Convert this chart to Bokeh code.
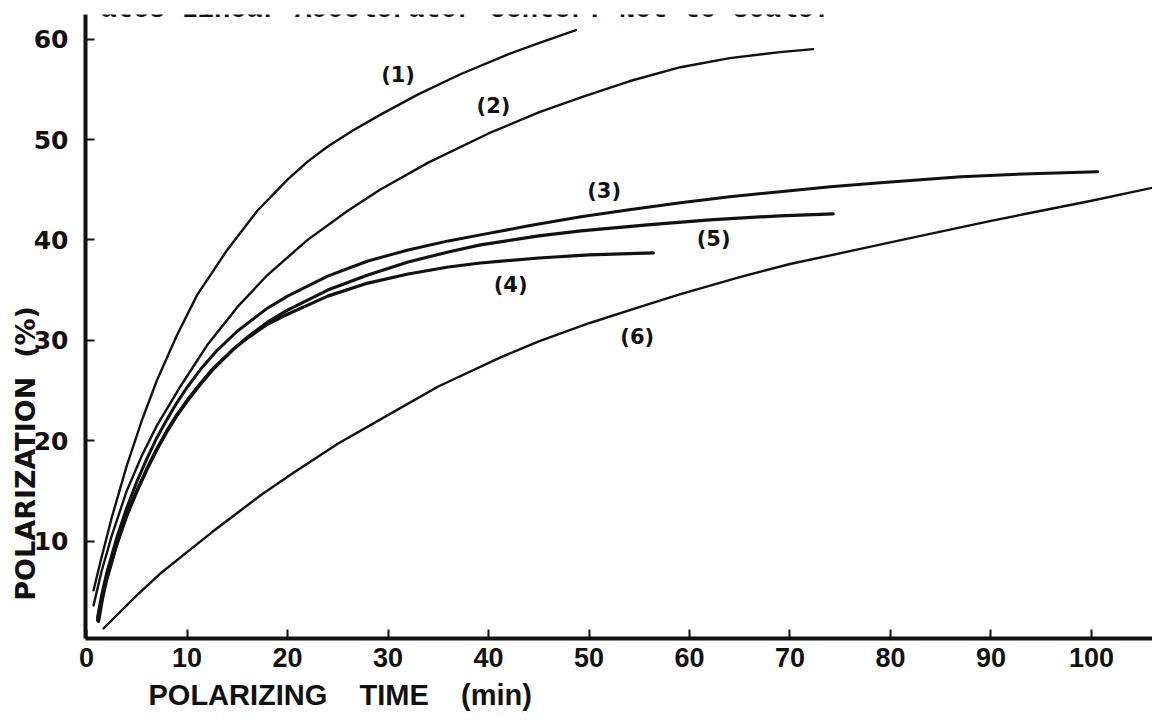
from bokeh.plotting import figure
from bokeh.models import Label, Range1d, FixedTicker, ColumnDataSource, Title
from bokeh.core.properties import value
from bokeh.embed import file_html
from bokeh.resources import INLINE

# ---- data (time in min, polarization in %) ----
c1_t = [0.7, 1.5, 2.5, 4, 5.5, 7, 9, 11, 14, 17, 20, 22, 24, 26.5, 29.3, 33, 37.2, 42, 45, 48.7]
c1_p = [5.1, 8.4, 12.3, 17.5, 22.0, 26.0, 30.5, 34.5, 39.0, 42.9, 46.0, 47.8, 49.3, 50.9, 52.5, 54.5, 56.5, 58.5, 59.6, 60.9]

c2_t = [0.7, 1.5, 2.5, 4, 5.5, 7, 9.4, 12, 15, 18, 22, 26, 29.2, 34, 40, 45, 49.2, 54, 59.1, 64, 69, 72.3]
c2_p = [3.6, 7.0, 10.5, 15.0, 18.5, 21.5, 25.5, 29.5, 33.3, 36.5, 40.0, 42.9, 45.0, 47.7, 50.6, 52.7, 54.2, 55.8, 57.2, 58.1, 58.7, 59.0]

c3_t = [1.1, 1.5, 2, 3, 4, 5, 6, 7, 8, 9, 10, 11.5, 13, 15, 18, 20, 24, 28, 32, 36, 39.2, 44, 49.2, 54, 59.1, 64, 69, 74, 79, 87, 94, 100.6]
c3_p = [2.4, 4.6, 6.8, 10.3, 13.3, 15.9, 18.2, 20.3, 22.1, 23.8, 25.3, 27.3, 29.0, 30.9, 33.2, 34.4, 36.4, 37.9, 39.0, 39.9, 40.5, 41.4, 42.3, 43.0, 43.7, 44.3, 44.8, 45.3, 45.7, 46.3, 46.6, 46.8]

c4_t = [1.1, 1.5, 2, 3, 4, 5, 6, 7, 8, 9, 10, 11, 12.5, 14.6, 16, 18, 20, 24, 28, 32, 36, 39.2, 45, 50, 56.4]
c4_p = [2.1, 4.2, 6.3, 9.7, 12.6, 15.0, 17.2, 19.2, 21.0, 22.6, 24.0, 25.3, 27.1, 29.1, 30.2, 31.6, 32.6, 34.4, 35.7, 36.6, 37.3, 37.7, 38.2, 38.5, 38.7]

c5_t = [1.2, 1.6, 2, 3, 4, 5, 6, 7, 8, 9, 10, 11, 12.5, 14.6, 16, 18, 20, 24, 28, 32, 36, 39.2, 45, 49.2, 55.8, 62, 69, 74.3]
c5_p = [2.0, 4.3, 6.1, 9.6, 12.5, 14.9, 17.1, 19.1, 20.9, 22.5, 23.9, 25.2, 27.0, 29.1, 30.3, 31.8, 33.0, 35.0, 36.5, 37.8, 38.8, 39.5, 40.4, 40.9, 41.5, 42.0, 42.4, 42.6]

c6_t = [1.7, 3, 5, 7.5, 10, 12.5, 15, 17.5, 20.6, 25, 30.6, 35, 41.2, 45, 50, 55, 59.1, 65, 70, 77, 83, 90, 95, 100, 106.1]
c6_p = [1.3, 2.6, 4.6, 6.9, 8.9, 10.9, 12.8, 14.7, 16.8, 19.7, 22.9, 25.4, 28.3, 29.9, 31.7, 33.3, 34.6, 36.3, 37.6, 39.1, 40.4, 41.9, 42.9, 43.9, 45.2]

curve_names = ["(1)", "(2)", "(3)", "(4)", "(5)", "(6)"]
name_t = [31.0, 40.5, 51.5, 42.2, 62.4, 54.8]
name_p = [56.4, 53.3, 44.9, 35.5, 40.1, 30.3]

x_ticks = [0, 10, 20, 30, 40, 50, 60, 70, 80, 90, 100]
y_ticks = [10, 20, 30, 40, 50, 60]

NB = "\u00a0"
x_title = "POLARIZING" + NB * 4 + "TIME" + NB * 4 + "(min)"
# trailing no-break spaces push the centred axis label toward the bottom, as in the scan
y_title = "POLARIZATION" + NB * 2 + "(%)" + NB * 27
caption = "ates Linear Accelerator Center.  Not to scale."

INK = "#111111"

p = figure(width=1152, height=720,
           x_range=Range1d(-0.1, 106.07), y_range=Range1d(0.3, 62.45),
           output_backend="svg", toolbar_location=None,
           min_border_left=85, min_border_right=0, min_border_top=14, min_border_bottom=82)
p.background_fill_color = "white"
p.border_fill_color = "white"
p.outline_line_color = None
p.xgrid.visible = False
p.ygrid.visible = False

# axes
for ax in (p.xaxis[0], p.yaxis[0]):
    ax.axis_line_width = 4
    ax.axis_line_color = INK
    ax.major_tick_in = 9
    ax.major_tick_out = 0
    ax.major_tick_line_width = 2
    ax.major_tick_line_color = INK
    ax.minor_tick_line_color = None
    ax.major_label_text_color = INK

p.xaxis.ticker = FixedTicker(ticks=x_ticks)
p.yaxis.ticker = FixedTicker(ticks=y_ticks)
p.xaxis.major_label_text_font = "Liberation Sans"
p.xaxis.major_label_text_font_size = "27px"
p.xaxis.major_label_text_font_style = "bold"
p.xaxis.major_label_standoff = 9
p.yaxis.major_label_text_font = "DejaVu Sans"
p.yaxis.major_label_text_font_size = "25px"
p.yaxis.major_label_text_font_style = "bold"
p.yaxis.major_label_standoff = 17

# y title as the axis label
p.yaxis.axis_label = y_title
p.yaxis.axis_label_text_font = "DejaVu Sans"
p.yaxis.axis_label_text_font_size = "27px"
p.yaxis.axis_label_text_font_style = "bold"
p.yaxis.axis_label_text_color = INK
p.yaxis.axis_label_standoff = -10

# x title as a side-panel title
p.add_layout(Title(text=x_title, align="left", offset=63, standoff=15,
                   text_font="Liberation Sans", text_font_size="29px",
                   text_font_style="bold", text_color=INK), "below")

# curves
widths = [2.4, 2.4, 3.0, 3.2, 3.2, 2.4]
series = [(c1_t, c1_p), (c2_t, c2_p), (c3_t, c3_p), (c4_t, c4_p), (c5_t, c5_p), (c6_t, c6_p)]
for (tt, pp), w in zip(series, widths):
    p.line(tt, pp, line_color=INK, line_width=w, line_cap="round", line_join="round")

# curve names
src = ColumnDataSource(dict(x=name_t, y=name_p, text=curve_names))
p.text(x="x", y="y", text="text", source=src, text_font=value("DejaVu Sans"),
       text_font_style="bold", text_font_size="21px", text_color=INK,
       text_align="center", text_baseline="middle")

# caption at the very top, clipped by the page edge as in the scan
p.add_layout(Label(x=1.39, y=62.85, text=caption,
                   text_font="Liberation Mono", text_font_size="27px", text_font_style="bold",
                   text_color=INK, text_baseline="alphabetic"))

open("out.html", "w").write(file_html(p, INLINE))
